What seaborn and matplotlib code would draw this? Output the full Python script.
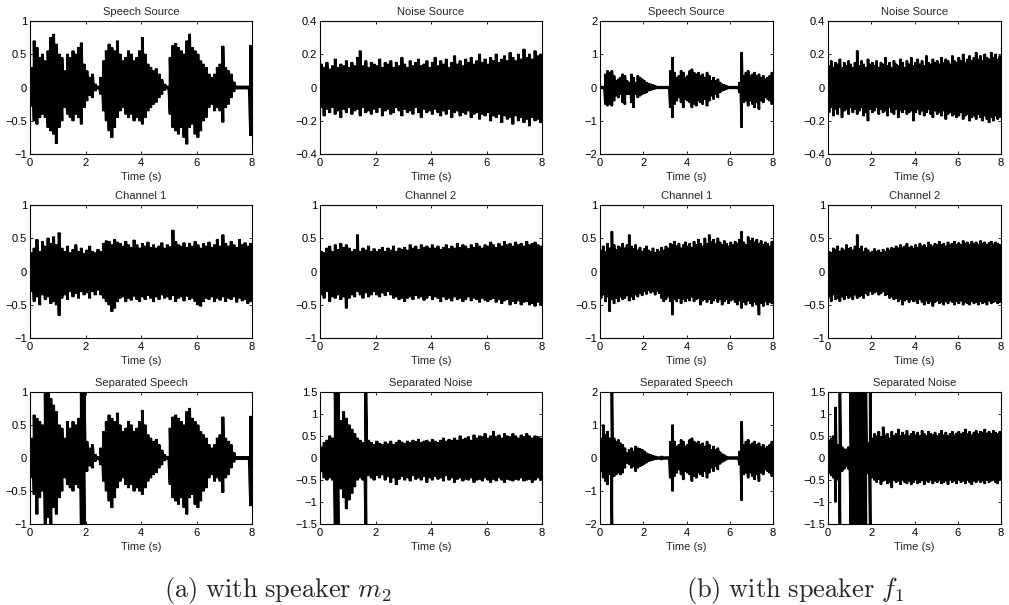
import numpy as np
import pandas as pd
import matplotlib
matplotlib.use("Agg")
import matplotlib.pyplot as plt
import seaborn as sns

# ---- waveform envelopes: upper / lower extent per 0.1 s frame (0 .. 8 s) ----
speech_m2_hi = [0.3, 0.7, 0.6, 0.45, 0.5, 0.4, 0.55, 0.75, 0.8, 0.65,
                0.5, 0.45, 0.25, 0.5, 0.45, 0.55, 0.5, 0.6, 0.67, 0.35,
                0.25, 0.15, 0.2, 0.05, 0.02, 0.15, 0.4, 0.55, 0.65, 0.6,
                0.55, 0.7, 0.5, 0.4, 0.45, 0.55, 0.5, 0.4, 0.45, 0.55,
                0.75, 0.5, 0.35, 0.3, 0.25, 0.28, 0.2, 0.12, 0.05, 0.02,
                0.45, 0.63, 0.66, 0.6, 0.55, 0.5, 0.7, 0.8, 0.6, 0.55,
                0.5, 0.4, 0.35, 0.3, 0.2, 0.15, 0.2, 0.3, 0.35, 0.62,
                0.3, 0.25, 0.2, 0.08, 0.02, 0.02, 0.02, 0.02, 0.02, 0.63]
speech_m2_lo = [-0.28, -0.5, -0.55, -0.45, -0.4, -0.45, -0.6, -0.65, -0.7, -0.84,
                -0.6, -0.5, -0.3, -0.4, -0.45, -0.5, -0.4, -0.45, -0.55, -0.3,
                -0.2, -0.12, -0.15, -0.05, -0.02, -0.1, -0.35, -0.5, -0.65, -0.75,
                -0.6, -0.45, -0.35, -0.3, -0.4, -0.45, -0.4, -0.5, -0.45, -0.5,
                -0.55, -0.45, -0.35, -0.3, -0.25, -0.22, -0.15, -0.1, -0.04, -0.02,
                -0.4, -0.6, -0.65, -0.7, -0.6, -0.75, -0.85, -0.6, -0.55, -0.7,
                -0.75, -0.65, -0.5, -0.45, -0.3, -0.25, -0.35, -0.3, -0.35, -0.52,
                -0.3, -0.25, -0.15, -0.06, -0.02, -0.02, -0.02, -0.02, -0.02, -0.72]

noise_m2_hi = [0.14, 0.12, 0.15, 0.11, 0.13, 0.17, 0.12, 0.14, 0.13, 0.16,
               0.12, 0.15, 0.13, 0.18, 0.22, 0.13, 0.16, 0.12, 0.15, 0.14,
               0.13, 0.17, 0.12, 0.15, 0.14, 0.16, 0.12, 0.15, 0.13, 0.18,
               0.14, 0.12, 0.16, 0.13, 0.15, 0.17, 0.13, 0.14, 0.16, 0.12,
               0.15, 0.18, 0.13, 0.16, 0.14, 0.17, 0.12, 0.15, 0.19, 0.14,
               0.16, 0.13, 0.17, 0.15, 0.18, 0.14, 0.16, 0.2, 0.15, 0.17,
               0.14, 0.18, 0.16, 0.2, 0.15, 0.17, 0.19, 0.16, 0.21, 0.18,
               0.16, 0.2, 0.17, 0.23, 0.18, 0.2, 0.17, 0.22, 0.19, 0.2]
noise_m2_lo = [-0.12, -0.17, -0.13, -0.15, -0.12, -0.16, -0.14, -0.18, -0.13, -0.15,
               -0.12, -0.16, -0.14, -0.13, -0.17, -0.12, -0.15, -0.14, -0.16, -0.13,
               -0.15, -0.12, -0.17, -0.14, -0.13, -0.16, -0.15, -0.12, -0.14, -0.17,
               -0.13, -0.15, -0.14, -0.16, -0.12, -0.15, -0.18, -0.13, -0.15, -0.14,
               -0.16, -0.13, -0.15, -0.17, -0.14, -0.16, -0.13, -0.18, -0.15, -0.14,
               -0.17, -0.15, -0.16, -0.14, -0.18, -0.16, -0.15, -0.19, -0.16, -0.17,
               -0.15, -0.2, -0.17, -0.18, -0.16, -0.21, -0.17, -0.19, -0.18, -0.22,
               -0.17, -0.2, -0.18, -0.21, -0.19, -0.23, -0.18, -0.2, -0.19, -0.21]

chan1_m2_hi = [0.28, 0.35, 0.48, 0.3, 0.45, 0.38, 0.5, 0.42, 0.52, 0.4,
               0.58, 0.35, 0.3, 0.38, 0.28, 0.33, 0.4, 0.3, 0.35, 0.27,
               0.32, 0.38, 0.3, 0.28, 0.33, 0.3, 0.42, 0.46, 0.45, 0.4,
               0.48, 0.44, 0.42, 0.38, 0.45, 0.4, 0.36, 0.47, 0.4, 0.35,
               0.42, 0.38, 0.44, 0.36, 0.4, 0.35, 0.38, 0.43, 0.35, 0.4,
               0.37, 0.62, 0.45, 0.4, 0.38, 0.43, 0.36, 0.42, 0.38, 0.45,
               0.4, 0.35, 0.42, 0.38, 0.44, 0.36, 0.4, 0.48, 0.38, 0.55,
               0.42, 0.38, 0.45, 0.4, 0.36, 0.48, 0.4, 0.43, 0.38, 0.42]
chan1_m2_lo = [-0.3, -0.45, -0.38, -0.5, -0.35, -0.42, -0.38, -0.48, -0.45, -0.5,
               -0.66, -0.4, -0.35, -0.42, -0.3, -0.38, -0.33, -0.4, -0.3, -0.35,
               -0.32, -0.4, -0.3, -0.35, -0.28, -0.35, -0.4, -0.45, -0.5, -0.6,
               -0.55, -0.45, -0.4, -0.38, -0.45, -0.4, -0.43, -0.37, -0.42, -0.45,
               -0.38, -0.42, -0.36, -0.4, -0.45, -0.38, -0.42, -0.35, -0.4, -0.38,
               -0.42, -0.36, -0.45, -0.4, -0.38, -0.44, -0.37, -0.42, -0.4, -0.45,
               -0.5, -0.52, -0.45, -0.4, -0.42, -0.38, -0.45, -0.4, -0.43, -0.38,
               -0.45, -0.4, -0.42, -0.38, -0.46, -0.4, -0.44, -0.42, -0.48, -0.45]

chan2_m2_hi = [0.3, 0.28, 0.35, 0.38, 0.3, 0.4, 0.33, 0.42, 0.36, 0.4,
               0.35, 0.3, 0.33, 0.55, 0.3, 0.35, 0.32, 0.38, 0.3, 0.34,
               0.3, 0.33, 0.36, 0.3, 0.35, 0.32, 0.38, 0.3, 0.35, 0.33,
               0.36, 0.32, 0.4, 0.35, 0.38, 0.33, 0.4, 0.36, 0.38, 0.35,
               0.4, 0.35, 0.38, 0.33, 0.36, 0.4, 0.34, 0.38, 0.35, 0.42,
               0.36, 0.4, 0.38, 0.34, 0.4, 0.36, 0.42, 0.38, 0.35, 0.4,
               0.38, 0.44, 0.4, 0.36, 0.42, 0.38, 0.45, 0.4, 0.42, 0.38,
               0.44, 0.4, 0.42, 0.38, 0.45, 0.4, 0.42, 0.44, 0.4, 0.38]
chan2_m2_lo = [-0.35, -0.4, -0.3, -0.45, -0.38, -0.4, -0.35, -0.42, -0.38, -0.55,
               -0.4, -0.35, -0.38, -0.3, -0.35, -0.4, -0.32, -0.38, -0.35, -0.3,
               -0.35, -0.38, -0.32, -0.36, -0.3, -0.35, -0.4, -0.38, -0.42, -0.4,
               -0.45, -0.4, -0.38, -0.42, -0.36, -0.4, -0.38, -0.43, -0.4, -0.36,
               -0.42, -0.38, -0.4, -0.45, -0.38, -0.42, -0.4, -0.44, -0.38, -0.42,
               -0.4, -0.45, -0.42, -0.38, -0.44, -0.4, -0.42, -0.46, -0.4, -0.43,
               -0.45, -0.42, -0.4, -0.46, -0.42, -0.48, -0.44, -0.42, -0.5, -0.45,
               -0.48, -0.44, -0.5, -0.46, -0.45, -0.5, -0.48, -0.52, -0.46, -0.5]

sepsp_m2_hi = [0.3, 0.65, 0.6, 0.55, 0.5, 1.0, 1.0, 0.9, 0.8, 0.7,
               0.5, 0.45, 0.3, 0.55, 0.45, 0.55, 0.5, 0.6, 1.0, 1.0,
               0.25, 0.15, 0.2, 0.05, 0.02, 0.15, 0.4, 0.55, 0.65, 0.6,
               0.55, 0.68, 0.5, 0.4, 0.45, 0.55, 0.5, 0.4, 0.45, 0.55,
               0.72, 0.5, 0.35, 0.3, 0.25, 0.28, 0.2, 0.12, 0.05, 0.02,
               0.45, 0.62, 0.65, 0.6, 0.55, 0.5, 0.7, 0.75, 0.6, 0.55,
               0.5, 0.4, 0.35, 0.3, 0.2, 0.15, 0.2, 0.3, 0.35, 0.62,
               0.3, 0.25, 0.2, 0.08, 0.02, 0.02, 0.02, 0.02, 0.02, 0.63]
sepsp_m2_lo = [-0.3, -0.55, -0.85, -0.6, -0.5, -1.0, -0.9, -1.0, -0.75, -0.85,
               -0.6, -0.5, -0.3, -0.4, -0.45, -0.5, -0.4, -0.45, -1.0, -1.0,
               -0.2, -0.12, -0.15, -0.05, -0.02, -0.1, -0.35, -0.5, -0.65, -0.75,
               -0.6, -0.45, -0.35, -0.3, -0.4, -0.45, -0.4, -0.5, -0.45, -0.5,
               -0.55, -0.45, -0.35, -0.3, -0.25, -0.22, -0.15, -0.1, -0.04, -0.02,
               -0.4, -0.6, -0.65, -0.7, -0.6, -0.75, -0.85, -0.6, -0.55, -0.7,
               -0.75, -0.65, -0.5, -0.45, -0.3, -0.25, -0.35, -0.3, -0.35, -0.52,
               -0.3, -0.25, -0.15, -0.06, -0.02, -0.02, -0.02, -0.02, -0.02, -0.72]

sepno_m2_hi = [0.25, 0.35, 0.4, 0.5, 0.45, 1.5, 1.5, 0.85, 1.05, 0.9,
               0.75, 0.65, 0.55, 0.45, 0.4, 0.35, 1.5, 0.4, 0.35, 0.3,
               0.38, 0.33, 0.3, 0.36, 0.32, 0.38, 0.3, 0.35, 0.4, 0.36,
               0.33, 0.38, 0.35, 0.4, 0.37, 0.42, 0.35, 0.38, 0.4, 0.36,
               0.42, 0.38, 0.35, 0.4, 0.45, 0.38, 0.42, 0.4, 0.45, 0.4,
               0.5, 0.42, 0.45, 0.48, 0.4, 0.52, 0.45, 0.5, 0.48, 0.55,
               0.45, 0.5, 0.6, 0.48, 0.52, 0.45, 0.55, 0.5, 0.48, 0.55,
               0.5, 0.45, 0.52, 0.48, 0.55, 0.5, 0.45, 0.5, 0.48, 0.45]
sepno_m2_lo = [-0.3, -0.45, -0.5, -0.45, -0.5, -1.5, -1.5, -0.7, -0.9, -1.15,
               -0.95, -0.8, -0.65, -0.5, -0.45, -0.5, -1.5, -0.4, -0.45, -0.5,
               -0.4, -0.45, -0.38, -0.5, -0.42, -0.55, -0.45, -0.6, -0.48, -0.42,
               -0.5, -0.45, -0.52, -0.4, -0.48, -0.45, -0.5, -0.42, -0.55, -0.45,
               -0.5, -0.42, -0.48, -0.45, -0.52, -0.4, -0.5, -0.45, -0.55, -0.48,
               -0.45, -0.52, -0.48, -0.5, -0.45, -0.55, -0.5, -0.48, -0.52, -0.45,
               -0.5, -0.55, -0.48, -0.52, -0.45, -0.5, -0.55, -0.48, -0.5, -0.52,
               -0.48, -0.5, -0.45, -0.52, -0.5, -0.48, -0.55, -0.5, -0.45, -0.5]

speech_f1_hi = [0.03, 0.03, 0.4, 0.5, 0.45, 0.5, 0.35, 0.2, 0.25, 0.3,
                0.4, 0.35, 0.2, 0.15, 0.4, 0.3, 0.15, 0.35, 0.3, 0.25,
                0.2, 0.15, 0.12, 0.1, 0.08, 0.05, 0.03, 0.03, 0.03, 0.03,
                0.03, 0.03, 0.5, 0.9, 0.45, 0.3, 0.35, 0.5, 0.45, 0.3,
                0.35, 0.5, 0.55, 0.45, 0.4, 0.45, 0.35, 0.4, 0.3, 0.45,
                0.35, 0.2, 0.3, 0.2, 0.25, 0.15, 0.1, 0.08, 0.05, 0.03,
                0.03, 0.03, 0.03, 0.03, 0.15, 1.05, 0.35, 0.45, 0.5, 0.35,
                0.4, 0.45, 0.35, 0.4, 0.3, 0.35, 0.25, 0.3, 0.35, 0.45]
speech_f1_lo = [-0.03, -0.03, -0.5, -0.55, -0.5, -0.55, -0.4, -0.25, -0.3, -0.2,
                -0.45, -0.5, -0.2, -0.2, -0.45, -0.6, -0.2, -0.3, -0.25, -0.2,
                -0.18, -0.15, -0.1, -0.08, -0.06, -0.04, -0.03, -0.03, -0.03, -0.03,
                -0.03, -0.03, -0.6, -0.9, -0.5, -0.4, -0.3, -0.45, -0.6, -0.35,
                -0.4, -0.45, -0.6, -0.5, -0.55, -0.4, -0.45, -0.5, -0.35, -0.55,
                -0.4, -0.25, -0.35, -0.2, -0.3, -0.15, -0.1, -0.08, -0.05, -0.03,
                -0.03, -0.03, -0.03, -0.03, -0.15, -1.2, -0.45, -0.4, -0.55, -0.4,
                -0.5, -0.6, -0.45, -0.65, -0.4, -0.45, -0.3, -0.35, -0.4, -0.5]

noise_f1_hi = [0.13, 0.16, 0.12, 0.15, 0.14, 0.17, 0.12, 0.15, 0.13, 0.16,
               0.14, 0.12, 0.15, 0.22, 0.13, 0.16, 0.14, 0.12, 0.17, 0.14,
               0.15, 0.13, 0.16, 0.12, 0.15, 0.14, 0.18, 0.13, 0.15, 0.12,
               0.16, 0.14, 0.13, 0.17, 0.15, 0.12, 0.16, 0.14, 0.18, 0.13,
               0.15, 0.17, 0.14, 0.16, 0.13, 0.19, 0.15, 0.14, 0.17, 0.15,
               0.16, 0.14, 0.18, 0.15, 0.17, 0.16, 0.14, 0.19, 0.16, 0.15,
               0.18, 0.16, 0.2, 0.15, 0.17, 0.19, 0.16, 0.18, 0.21, 0.17,
               0.19, 0.16, 0.2, 0.18, 0.17, 0.21, 0.18, 0.2, 0.17, 0.19]
noise_f1_lo = [-0.15, -0.12, -0.17, -0.13, -0.16, -0.12, -0.18, -0.14, -0.13, -0.16,
               -0.12, -0.15, -0.13, -0.16, -0.14, -0.12, -0.17, -0.15, -0.2, -0.13,
               -0.15, -0.14, -0.12, -0.16, -0.13, -0.15, -0.14, -0.17, -0.12, -0.15,
               -0.16, -0.13, -0.18, -0.14, -0.15, -0.13, -0.16, -0.15, -0.14, -0.2,
               -0.15, -0.13, -0.16, -0.14, -0.17, -0.15, -0.13, -0.16, -0.18, -0.14,
               -0.16, -0.15, -0.17, -0.14, -0.19, -0.16, -0.15, -0.17, -0.16, -0.18,
               -0.17, -0.15, -0.19, -0.17, -0.16, -0.2, -0.18, -0.17, -0.19, -0.16,
               -0.18, -0.2, -0.17, -0.19, -0.21, -0.18, -0.2, -0.17, -0.19, -0.18]

chan1_f1_hi = [0.32, 0.38, 0.3, 0.42, 0.35, 0.6, 0.4, 0.33, 0.38, 0.36,
               0.42, 0.35, 0.4, 0.55, 0.38, 0.34, 0.4, 0.32, 0.36, 0.3,
               0.34, 0.38, 0.32, 0.3, 0.35, 0.28, 0.33, 0.3, 0.36, 0.32,
               0.38, 0.35, 0.42, 0.4, 0.45, 0.38, 0.42, 0.35, 0.4, 0.44,
               0.38, 0.42, 0.36, 0.45, 0.4, 0.48, 0.42, 0.38, 0.5, 0.42,
               0.55, 0.45, 0.48, 0.42, 0.5, 0.44, 0.4, 0.46, 0.42, 0.38,
               0.44, 0.4, 0.45, 0.42, 0.48, 0.6, 0.44, 0.4, 0.52, 0.46,
               0.5, 0.44, 0.48, 0.42, 0.46, 0.4, 0.44, 0.42, 0.38, 0.45]
chan1_f1_lo = [-0.4, -0.35, -0.45, -0.38, -0.6, -0.42, -0.48, -0.4, -0.45, -0.38,
               -0.42, -0.4, -0.36, -0.44, -0.38, -0.42, -0.35, -0.38, -0.33, -0.36,
               -0.3, -0.34, -0.28, -0.32, -0.3, -0.35, -0.3, -0.33, -0.4, -0.45,
               -0.42, -0.38, -0.45, -0.65, -0.42, -0.45, -0.4, -0.48, -0.42, -0.45,
               -0.4, -0.44, -0.38, -0.45, -0.42, -0.4, -0.5, -0.44, -0.42, -0.46,
               -0.42, -0.48, -0.44, -0.4, -0.46, -0.42, -0.5, -0.45, -0.42, -0.48,
               -0.44, -0.42, -0.46, -0.5, -0.44, -0.55, -0.46, -0.5, -0.44, -0.48,
               -0.52, -0.46, -0.5, -0.65, -0.48, -0.52, -0.45, -0.5, -0.46, -0.48]

chan2_f1_hi = [0.3, 0.28, 0.35, 0.33, 0.38, 0.3, 0.35, 0.32, 0.4, 0.34,
               0.36, 0.32, 0.38, 0.55, 0.34, 0.38, 0.3, 0.35, 0.32, 0.28,
               0.3, 0.34, 0.3, 0.32, 0.28, 0.33, 0.3, 0.35, 0.32, 0.36,
               0.34, 0.38, 0.35, 0.4, 0.36, 0.38, 0.42, 0.36, 0.38, 0.35,
               0.4, 0.36, 0.42, 0.38, 0.4, 0.36, 0.44, 0.4, 0.38, 0.42,
               0.4, 0.45, 0.4, 0.42, 0.38, 0.44, 0.4, 0.42, 0.45, 0.4,
               0.43, 0.4, 0.46, 0.42, 0.44, 0.4, 0.45, 0.42, 0.44, 0.4,
               0.46, 0.42, 0.44, 0.4, 0.43, 0.45, 0.41, 0.44, 0.42, 0.4]
chan2_f1_lo = [-0.38, -0.45, -0.35, -0.42, -0.4, -0.45, -0.38, -0.42, -0.36, -0.4,
               -0.38, -0.42, -0.35, -0.4, -0.38, -0.36, -0.4, -0.33, -0.36, -0.3,
               -0.34, -0.32, -0.3, -0.35, -0.33, -0.3, -0.36, -0.34, -0.4, -0.38,
               -0.42, -0.4, -0.45, -0.42, -0.5, -0.44, -0.42, -0.46, -0.42, -0.45,
               -0.44, -0.48, -0.42, -0.46, -0.5, -0.44, -0.48, -0.45, -0.52, -0.46,
               -0.44, -0.48, -0.46, -0.5, -0.45, -0.48, -0.44, -0.46, -0.5, -0.45,
               -0.48, -0.44, -0.5, -0.46, -0.48, -0.5, -0.45, -0.48, -0.46, -0.5,
               -0.45, -0.48, -0.46, -0.5, -0.44, -0.48, -0.46, -0.45, -0.48, -0.46]

sepsp_f1_hi = [0.6, 1.0, 0.7, 0.8, 0.6, 2.0, 0.6, 0.5, 0.55, 0.45,
               0.4, 0.3, 0.15, 0.25, 0.3, 0.2, 0.35, 0.3, 0.28, 0.25,
               0.2, 0.15, 0.12, 0.1, 0.07, 0.05, 0.03, 0.03, 0.05, 0.03,
               0.03, 0.03, 0.5, 1.0, 0.5, 0.35, 0.4, 0.55, 0.5, 0.35,
               0.4, 0.55, 0.6, 0.5, 0.45, 0.5, 0.4, 0.45, 0.35, 0.5,
               0.4, 0.25, 0.35, 0.25, 0.3, 0.18, 0.12, 0.09, 0.05, 0.03,
               0.03, 0.03, 0.03, 0.03, 0.2, 1.1, 0.4, 0.5, 0.55, 0.4,
               0.45, 0.5, 0.4, 0.45, 0.35, 0.4, 0.3, 0.35, 0.4, 0.5]
sepsp_f1_lo = [-0.4, -0.6, -0.7, -0.8, -0.5, -2.0, -0.55, -0.5, -0.45, -0.5,
               -0.45, -0.3, -0.15, -0.2, -0.3, -0.25, -0.4, -0.3, -0.25, -0.22,
               -0.18, -0.14, -0.1, -0.08, -0.06, -0.04, -0.03, -0.03, -0.05, -0.03,
               -0.03, -0.03, -0.6, -1.0, -0.55, -0.45, -0.35, -0.5, -0.65, -0.4,
               -0.45, -0.5, -0.7, -0.55, -0.6, -0.45, -0.5, -0.55, -0.4, -0.6,
               -0.45, -0.3, -0.4, -0.25, -0.35, -0.18, -0.12, -0.09, -0.05, -0.03,
               -0.03, -0.03, -0.03, -0.03, -0.2, -1.28, -0.5, -0.45, -0.6, -0.45,
               -0.55, -0.65, -0.5, -0.7, -0.45, -0.5, -0.35, -0.4, -0.45, -0.55]

sepno_f1_hi = [0.4, 0.45, 0.5, 1.15, 0.3, 1.5, 0.25, 0.2, 0.2, 0.25,
               1.5, 1.5, 1.5, 1.5, 1.5, 1.5, 1.5, 1.5, 0.35, 1.5,
               0.45, 0.55, 0.5, 0.6, 0.48, 0.7, 0.52, 0.55, 0.45, 0.6,
               0.5, 0.55, 0.65, 0.5, 0.58, 0.52, 0.62, 0.5, 0.55, 0.6,
               0.52, 0.58, 0.5, 0.62, 0.55, 0.5, 0.6, 0.55, 0.52, 0.58,
               0.5, 0.55, 0.62, 0.52, 0.58, 0.5, 0.55, 0.6, 0.52, 0.56,
               0.6, 0.54, 0.58, 0.65, 0.55, 0.6, 0.52, 0.58, 0.62, 0.55,
               0.6, 0.58, 0.65, 0.56, 0.6, 0.55, 0.62, 0.58, 0.55, 0.6]
sepno_f1_lo = [-0.35, -0.4, -0.45, -1.0, -0.5, -1.5, -0.3, -0.25, -0.2, -0.25,
               -1.5, -1.5, -1.5, -1.5, -1.5, -1.5, -1.5, -1.5, -0.35, -1.5,
               -0.45, -0.5, -0.55, -0.48, -0.6, -0.52, -0.5, -0.58, -0.55, -0.67,
               -0.5, -0.55, -0.52, -0.6, -0.5, -0.55, -0.58, -0.52, -0.6, -0.55,
               -0.5, -0.58, -0.55, -0.5, -0.6, -0.52, -0.55, -0.5, -0.58, -0.52,
               -0.55, -0.5, -0.58, -0.55, -0.52, -0.6, -0.5, -0.55, -0.52, -0.58,
               -0.5, -0.55, -0.52, -0.58, -0.5, -0.55, -0.6, -0.52, -0.55, -0.5,
               -0.55, -0.52, -0.58, -0.5, -0.55, -0.52, -0.5, -0.55, -0.58, -0.5]

# ---- axis ticks ----
time_ticks = [0, 2, 4, 6, 8]
ticks_1 = [-1, -0.5, 0, 0.5, 1]
ticks_04 = [-0.4, -0.2, 0, 0.2, 0.4]
ticks_15 = [-1.5, -1, -0.5, 0, 0.5, 1, 1.5]
ticks_2 = [-2, -1, 0, 1, 2]

titles = ["Speech Source", "Noise Source", "Channel 1", "Channel 2",
          "Separated Speech", "Separated Noise"]
captions = [r"$\mathrm{(a)\ with\ speaker}\ m_2$", r"$\mathrm{(b)\ with\ speaker}\ f_1$"]

# ---- style ----
sns.set_style("ticks")
plt.rcParams["font.family"] = ["Liberation Sans", "DejaVu Sans"]
plt.rcParams.update({
    "mathtext.fontset": "cm",
    "xtick.direction": "in", "ytick.direction": "in",
    "xtick.top": True, "ytick.right": True,
    "xtick.major.size": 2.5, "ytick.major.size": 2.5,
    "xtick.major.width": 0.6, "ytick.major.width": 0.6,
    "xtick.major.pad": 3, "ytick.major.pad": 2,
    "axes.linewidth": 0.8, "axes.edgecolor": "black",
    "xtick.color": "black", "ytick.color": "black",
    "xtick.labelsize": 8, "ytick.labelsize": 8,
})

W, H = 1009, 605
fig = plt.figure(figsize=(W / 100, H / 100), dpi=100)


def rect(x0, x1, y0, y1):
    return [x0 / W, 1 - y1 / H, (x1 - x0) / W, (y1 - y0) / H]


def fmt(v):
    s = f"{v:g}"
    return s.replace("-", "\u2212")


def draw_wave(ax, hi, lo, span=8.0):
    """Draw a dense waveform as min/max strokes, two per frame."""
    hi = np.asarray(hi, float)
    lo = np.asarray(lo, float)
    n = len(hi)
    dt = span / n
    t = np.arange(n) * dt
    xs = np.column_stack([t + 0.25 * dt, t + 0.25 * dt, t + 0.75 * dt, t + 0.75 * dt]).ravel()
    ys = np.column_stack([lo, hi, lo, hi]).ravel()
    df = pd.DataFrame({"t": xs, "v": ys})
    sns.lineplot(data=df, x="t", y="v", sort=False, estimator=None,
                 color="black", lw=1.1, ax=ax)


groups = [
    ([(30, 252), (320, 542)],
     [[(speech_m2_hi, speech_m2_lo, ticks_1), (noise_m2_hi, noise_m2_lo, ticks_04)],
      [(chan1_m2_hi, chan1_m2_lo, ticks_1), (chan2_m2_hi, chan2_m2_lo, ticks_1)],
      [(sepsp_m2_hi, sepsp_m2_lo, ticks_1), (sepno_m2_hi, sepno_m2_lo, ticks_15)]]),
    ([(600, 773), (828, 1001)],
     [[(speech_f1_hi, speech_f1_lo, ticks_2), (noise_f1_hi, noise_f1_lo, ticks_04)],
      [(chan1_f1_hi, chan1_f1_lo, ticks_1), (chan2_f1_hi, chan2_f1_lo, ticks_1)],
      [(sepsp_f1_hi, sepsp_f1_lo, ticks_2), (sepno_f1_hi, sepno_f1_lo, ticks_15)]]),
]
rows = [(21, 154), (205, 338), (392, 524)]

for g, (cols, grid) in enumerate(groups):
    for r, (y0, y1) in enumerate(rows):
        for c, (x0, x1) in enumerate(cols):
            hi, lo, yt = grid[r][c]
            ax = fig.add_axes(rect(x0, x1, y0, y1))
            ax.set_facecolor("white")
            draw_wave(ax, hi, lo)
            ax.set_xlim(0, 8)
            ax.set_ylim(yt[0], yt[-1])
            ax.set_xticks(time_ticks)
            ax.set_xticklabels([fmt(v) for v in time_ticks])
            ax.set_yticks(yt)
            ax.set_yticklabels([fmt(v) for v in yt])
            ax.set_xlabel("Time (s)", fontsize=8, labelpad=3)
            ax.set_ylabel("")
            ax.set_title(titles[2 * r + c], fontsize=8, pad=4)
            for s in ax.spines.values():
                s.set_visible(True)
                s.set_linewidth(0.8)
                s.set_color("black")

fig.text(278 / W, 1 - 590 / H, captions[0], fontsize=19, ha="center", va="center")
fig.text(795 / W, 1 - 590 / H, captions[1], fontsize=19, ha="center", va="center")

fig.savefig("out.png", dpi=100)
